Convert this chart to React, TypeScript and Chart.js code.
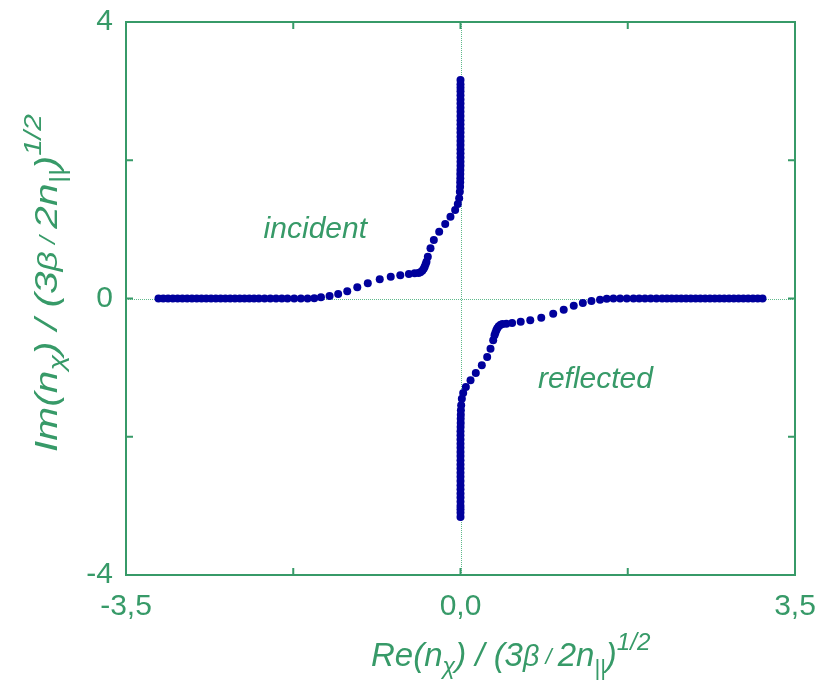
import React, { useEffect, useRef } from "react";
import { Chart, registerables } from "chart.js";

Chart.register(...registerables);

// incident branch [Re, Im]
const INCIDENT: [number, number][] = [
  [-3.16, 0], [-3.11, 0], [-3.06, 0], [-3.01, 0], [-2.96, 0], [-2.91, 0], [-2.86, 0], [-2.81, 0],
  [-2.76, 0], [-2.71, 0], [-2.66, 0], [-2.61, 0], [-2.56, 0], [-2.51, 0], [-2.46, 0], [-2.41, 0],
  [-2.36, 0], [-2.31, 0], [-2.26, 0], [-2.21, 0], [-2.16, 0], [-2.11, 0], [-2.05, 0], [-1.99, 0],
  [-1.93, 0], [-1.87, 0], [-1.81, 0], [-1.74, 0], [-1.67, 0], [-1.6, 0], [-1.53, 0.003],
  [-1.46, 0.017], [-1.37, 0.036], [-1.28, 0.065], [-1.185, 0.104], [-1.08, 0.162], [-0.97, 0.22],
  [-0.845, 0.278], [-0.73, 0.316], [-0.63, 0.336], [-0.54, 0.355], [-0.48, 0.364], [-0.44, 0.37],
  [-0.42, 0.378], [-0.4, 0.4], [-0.385, 0.43], [-0.375, 0.46], [-0.365, 0.495], [-0.356, 0.533],
  [-0.342, 0.605], [-0.314, 0.726], [-0.279, 0.847], [-0.223, 0.967], [-0.16, 1.078],
  [-0.105, 1.184], [-0.056, 1.281], [-0.028, 1.368], [-0.014, 1.45], [-0.007, 1.546],
  [-0.004, 1.618], [-0.003, 1.68], [-0.002, 1.74], [-0.002, 1.8], [-0.001, 1.86], [0, 1.92],
  [0, 1.98], [0, 2.04], [0, 2.1], [0, 2.16], [0, 2.22], [0, 2.28], [0, 2.34], [0, 2.4], [0, 2.46],
  [0, 2.52], [0, 2.58], [0, 2.64], [0, 2.7], [0, 2.76], [0, 2.82], [0, 2.88], [0, 2.94], [0, 3.0],
  [0, 3.05], [0, 3.1], [0, 3.16],
];

// reflected branch [Re, Im]
const REFLECTED: [number, number][] = [
  [3.16, 0], [3.11, 0], [3.06, 0], [3.01, 0], [2.96, 0], [2.91, 0], [2.86, 0], [2.81, 0],
  [2.76, 0], [2.71, 0], [2.66, 0], [2.61, 0], [2.56, 0], [2.51, 0], [2.46, 0], [2.41, 0],
  [2.36, 0], [2.31, 0], [2.26, 0], [2.21, 0], [2.16, 0], [2.11, 0], [2.05, 0], [1.99, 0],
  [1.93, 0], [1.87, 0], [1.81, 0], [1.74, 0], [1.67, 0], [1.6, 0], [1.53, -0.003],
  [1.46, -0.017], [1.37, -0.036], [1.28, -0.065], [1.185, -0.104], [1.08, -0.162], [0.97, -0.22],
  [0.845, -0.278], [0.73, -0.316], [0.63, -0.336], [0.54, -0.355], [0.48, -0.364], [0.44, -0.37],
  [0.42, -0.378], [0.4, -0.4], [0.385, -0.43], [0.375, -0.46], [0.365, -0.495], [0.356, -0.533],
  [0.342, -0.605], [0.314, -0.726], [0.279, -0.847], [0.223, -0.967], [0.16, -1.078],
  [0.105, -1.184], [0.056, -1.281], [0.028, -1.368], [0.014, -1.45], [0.007, -1.546],
  [0.004, -1.618], [0.003, -1.68], [0.002, -1.74], [0.002, -1.8], [0.001, -1.86], [0, -1.92],
  [0, -1.98], [0, -2.04], [0, -2.1], [0, -2.16], [0, -2.22], [0, -2.28], [0, -2.34], [0, -2.4],
  [0, -2.46], [0, -2.52], [0, -2.58], [0, -2.64], [0, -2.7], [0, -2.76], [0, -2.82], [0, -2.88],
  [0, -2.94], [0, -3.0], [0, -3.05], [0, -3.1], [0, -3.16],
];

const X_TICKS = [-3.5, -1.75, 0, 1.75, 3.5];
const X_LABELS = ["-3,5", "", "0,0", "", "3,5"];
const Y_TICKS = [-4, -2, 0, 2, 4];
const Y_LABELS = ["-4", "", "0", "", "4"];

const GREEN = "#379a68";
const DOT = "#00009c";
const FONT = "'Liberation Sans', Arial, sans-serif";

type Seg = { t: string; size: number; dy: number };

function titleSegs(first: string, k: number): Seg[] {
  const base: Seg[] = [
    { t: first + "(n", size: 30, dy: 0 },
    { t: "\u03c7", size: 21, dy: 7 },
    { t: ") / (3", size: 30, dy: 0 },
    { t: "\u03b2", size: 26, dy: 0 },
    { t: " / ", size: 20, dy: -2 },
    { t: "2n", size: 30, dy: 0 },
    { t: "||", size: 20, dy: 8 },
    { t: ")", size: 30, dy: 0 },
    { t: "1/2", size: 22, dy: -15 },
  ];
  return base.map((s) => ({ t: s.t, size: s.size * k, dy: s.dy * k }));
}

function drawRich(ctx: CanvasRenderingContext2D, segs: Seg[]) {
  let x = 0;
  for (const s of segs) {
    ctx.font = `italic ${s.size}px ${FONT}`;
    ctx.fillText(s.t, x, s.dy);
    x += ctx.measureText(s.t).width;
  }
}

const framePlugin = {
  id: "frame",
  beforeDatasetsDraw(chart: any) {
    const { ctx, chartArea: a, scales } = chart;
    const xs = scales.x;
    const ys = scales.y;
    ctx.save();
    // zero lines
    ctx.strokeStyle = "#5fba8c";
    ctx.lineWidth = 1;
    ctx.setLineDash([1, 1]);
    const x0 = Math.round(xs.getPixelForValue(0)) + 0.5;
    const y0 = Math.round(ys.getPixelForValue(0)) + 0.5;
    ctx.beginPath();
    ctx.moveTo(x0, a.top);
    ctx.lineTo(x0, a.bottom);
    ctx.moveTo(a.left, y0);
    ctx.lineTo(a.right, y0);
    ctx.stroke();
    ctx.setLineDash([]);
    // frame
    ctx.strokeStyle = GREEN;
    ctx.lineWidth = 2;
    ctx.strokeRect(a.left, a.top, a.right - a.left, a.bottom - a.top);
    // inward ticks
    const L = 7;
    ctx.beginPath();
    for (const v of X_TICKS) {
      const p = xs.getPixelForValue(v);
      ctx.moveTo(p, a.bottom);
      ctx.lineTo(p, a.bottom - L);
      ctx.moveTo(p, a.top);
      ctx.lineTo(p, a.top + L);
    }
    for (const v of Y_TICKS) {
      const p = ys.getPixelForValue(v);
      ctx.moveTo(a.left, p);
      ctx.lineTo(a.left + L, p);
      ctx.moveTo(a.right, p);
      ctx.lineTo(a.right - L, p);
    }
    ctx.stroke();
    ctx.restore();
  },
  afterDraw(chart: any) {
    const { ctx, scales } = chart;
    const xs = scales.x;
    const ys = scales.y;
    ctx.save();
    ctx.fillStyle = GREEN;
    ctx.textBaseline = "alphabetic";
    ctx.textAlign = "left";
    // in-plot labels
    ctx.font = `italic 30px ${FONT}`;
    ctx.fillText("incident", xs.getPixelForValue(-2.06), ys.getPixelForValue(0.88));
    ctx.fillText("reflected", xs.getPixelForValue(0.81), ys.getPixelForValue(-1.3));
    // x title
    ctx.save();
    ctx.translate(371, 666);
    drawRich(ctx, titleSegs("Re", 1.1));
    ctx.restore();
    // y title
    ctx.save();
    ctx.translate(57, 452);
    ctx.rotate(-Math.PI / 2);
    ctx.scale(1.28, 1);
    drawRich(ctx, titleSegs("Im", 1.06));
    ctx.restore();
    ctx.restore();
  },
};

export default function App() {
  const ref = useRef<HTMLCanvasElement | null>(null);
  useEffect(() => {
    if (!ref.current) return;
    const chart = new Chart(ref.current, {
      type: "scatter",
      data: {
        datasets: [
          {
            label: "incident",
            data: INCIDENT.map(([x, y]) => ({ x, y })),
            backgroundColor: DOT,
            borderWidth: 0,
            pointRadius: 4,
            pointHoverRadius: 4,
          },
          {
            label: "reflected",
            data: REFLECTED.map(([x, y]) => ({ x, y })),
            backgroundColor: DOT,
            borderWidth: 0,
            pointRadius: 4,
            pointHoverRadius: 4,
          },
        ],
      },
      options: {
        responsive: false,
        animation: false,
        events: [],
        layout: { padding: { left: 0, top: 22, right: 35, bottom: 0 } },
        plugins: { legend: { display: false }, tooltip: { enabled: false } },
        scales: {
          x: {
            type: "linear",
            min: -3.5,
            max: 3.5,
            afterBuildTicks: (s: any) => {
              s.ticks = X_TICKS.map((v) => ({ value: v }));
            },
            afterFit: (s: any) => {
              s.height = 109;
              s.paddingLeft = 0;
              s.paddingRight = 0;
            },
            ticks: {
              autoSkip: false,
              maxRotation: 0,
              padding: 14,
              color: GREEN,
              font: { family: FONT, size: 30 },
              callback: (v: any) => X_LABELS[X_TICKS.indexOf(Number(v))] ?? "",
            },
            grid: { display: false, drawTicks: false },
            border: { display: false },
          },
          y: {
            type: "linear",
            min: -4,
            max: 4,
            afterBuildTicks: (s: any) => {
              s.ticks = Y_TICKS.map((v) => ({ value: v }));
            },
            afterFit: (s: any) => {
              s.width = 126;
              s.paddingTop = 0;
              s.paddingBottom = 0;
            },
            ticks: {
              autoSkip: false,
              padding: 13,
              color: GREEN,
              font: { family: FONT, size: 30 },
              callback: (v: any) => Y_LABELS[Y_TICKS.indexOf(Number(v))] ?? "",
            },
            grid: { display: false, drawTicks: false },
            border: { display: false },
          },
        },
      },
      plugins: [framePlugin],
    });
    return () => chart.destroy();
  }, []);
  return (
    <div style={{ position: "absolute", left: 0, top: 0, width: 830, height: 684, background: "#fff" }}>
      <canvas ref={ref} width={830} height={684} style={{ width: 830, height: 684, display: "block" }} />
    </div>
  );
}
